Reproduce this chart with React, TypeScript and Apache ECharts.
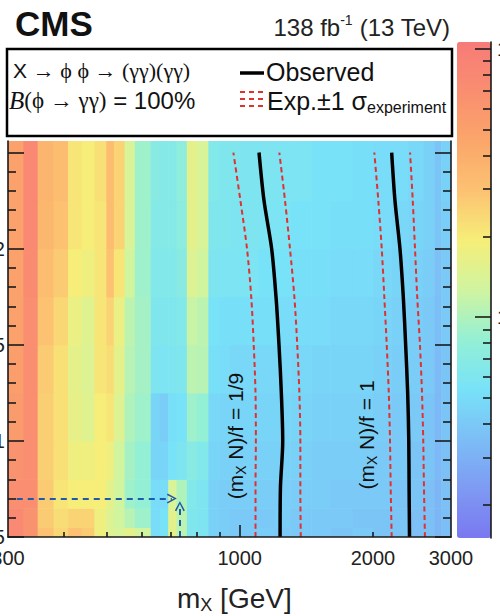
import React, { useEffect, useRef } from "react";
import * as echarts from "echarts";

// The canvas starts 40px left of the page edge; the page crops the y-axis labels.
const SHIFT = 40;

const FONT = "'Liberation Sans', Arial, Helvetica, sans-serif";
const SERIF = "'Liberation Serif', 'Times New Roman', 'DejaVu Serif', serif";

// Bin edges of the limit map
const massEdges = [300, 325, 350, 380, 410, 440, 470, 500, 520, 550, 580, 630, 660, 690, 720, 760, 800, 850, 900, 950, 1000, 1100, 1200, 1300, 1450, 1600, 1800, 2000, 2200, 2400, 2600, 2750, 2850, 3000];
const alphaEdges = [0.005, 0.0055, 0.0065, 0.008, 0.01, 0.0125, 0.015, 0.0175, 0.02, 0.0225, 0.0256];

// Observed 95% CL upper limits (fb), one row per alpha bin, low alpha first
const limitRow0 = [7.7, 6.3, 2.95, 2.4, 2.95, 2.7, 1.79, 1.45, 1.38, 1.57, 1.27, 0.5, 0.54, 1.57, 1.1, 0.61, 0.59, 0.44, 0.42, 0.4, 0.4, 0.42, 0.4, 0.4, 0.4, 0.38, 0.4, 0.38, 0.38, 0.36, 0.36, 0.32, 0.35];
const limitRow1 = [7.7, 6.3, 2.7, 2.3, 2.5, 2.5, 1.79, 1.45, 1.27, 1.06, 0.89, 0.5, 0.54, 1.57, 1.1, 0.61, 0.59, 0.44, 0.42, 0.4, 0.4, 0.4, 0.42, 0.4, 0.4, 0.4, 0.38, 0.38, 0.38, 0.36, 0.36, 0.32, 0.35];
const limitRow2 = [6.8, 6.8, 2.7, 2.1, 1.93, 1.93, 1.93, 1.57, 1.27, 0.89, 0.82, 0.5, 0.5, 1.38, 1.0, 0.64, 0.59, 0.44, 0.42, 0.42, 0.42, 0.42, 0.42, 0.42, 0.42, 0.4, 0.4, 0.4, 0.38, 0.38, 0.36, 0.32, 0.36];
const limitRow3 = [6.3, 6.8, 2.6, 2.2, 1.79, 1.79, 1.93, 1.79, 1.27, 0.93, 0.82, 0.46, 0.46, 0.54, 0.59, 0.69, 0.64, 0.46, 0.44, 0.44, 0.44, 0.44, 0.44, 0.44, 0.42, 0.42, 0.42, 0.4, 0.4, 0.38, 0.38, 0.33, 0.36];
const limitRow4 = [5.5, 6.8, 2.6, 2.2, 1.63, 1.5, 1.93, 2.1, 1.45, 1.0, 0.89, 0.46, 0.42, 0.52, 0.54, 0.89, 0.82, 0.48, 0.46, 0.46, 0.46, 0.46, 0.46, 0.46, 0.44, 0.44, 0.44, 0.42, 0.4, 0.4, 0.38, 0.33, 0.38];
const limitRow5 = [5.1, 6.8, 2.7, 2.2, 1.57, 1.45, 2.1, 2.3, 1.57, 1.06, 0.93, 0.59, 0.57, 0.59, 0.61, 1.1, 1.06, 0.52, 0.5, 0.48, 0.48, 0.48, 0.48, 0.48, 0.46, 0.46, 0.46, 0.44, 0.42, 0.42, 0.4, 0.34, 0.38];
const limitRow6 = [4.9, 6.8, 2.95, 2.4, 1.7, 1.5, 2.1, 2.5, 1.7, 1.1, 0.93, 0.61, 0.61, 0.61, 0.64, 1.2, 1.1, 0.54, 0.52, 0.52, 0.52, 0.52, 0.5, 0.5, 0.5, 0.48, 0.48, 0.46, 0.44, 0.42, 0.4, 0.35, 0.4];
const limitRow7 = [4.9, 7.4, 3.2, 2.7, 1.93, 1.79, 2.1, 2.95, 2.1, 1.27, 0.89, 0.64, 0.64, 0.64, 0.69, 1.45, 1.27, 0.59, 0.57, 0.57, 0.57, 0.54, 0.54, 0.52, 0.52, 0.5, 0.5, 0.48, 0.46, 0.44, 0.42, 0.36, 0.4];
const limitRow8 = [4.9, 7.7, 3.5, 2.95, 2.1, 1.93, 2.1, 3.2, 2.5, 1.38, 0.89, 0.66, 0.66, 0.66, 0.72, 1.57, 1.38, 0.61, 0.61, 0.59, 0.59, 0.57, 0.57, 0.54, 0.54, 0.52, 0.52, 0.5, 0.48, 0.46, 0.44, 0.38, 0.42];
const limitRow9 = [4.9, 7.7, 3.6, 3.2, 2.1, 1.93, 2.2, 3.2, 2.5, 1.38, 0.89, 0.69, 0.66, 0.66, 0.75, 1.57, 1.38, 0.64, 0.61, 0.61, 0.59, 0.59, 0.57, 0.57, 0.54, 0.54, 0.52, 0.5, 0.5, 0.48, 0.44, 0.38, 0.44];
const limitRows = [limitRow0, limitRow1, limitRow2, limitRow3, limitRow4, limitRow5, limitRow6, limitRow7, limitRow8, limitRow9];

// Exclusion contours: m_X (GeV) at each alpha
const contourAlpha = [0.005, 0.0075, 0.01, 0.0125, 0.015, 0.0175, 0.02, 0.0225, 0.025];
const obsNinth = [1234, 1236, 1251, 1242, 1227, 1208, 1181, 1135, 1106];
const expLowNinth = [1086, 1086, 1088, 1086, 1076, 1062, 1039, 1004, 968];
const expHighNinth = [1374, 1371, 1371, 1364, 1349, 1329, 1299, 1266, 1229];
const obsOne = [2418, 2413, 2409, 2395, 2370, 2341, 2301, 2242, 2204];
const expLowOne = [2204, 2193, 2185, 2171, 2148, 2121, 2093, 2056, 2014];
const expHighOne = [2620, 2607, 2597, 2580, 2553, 2517, 2488, 2459, 2425];

// Arrows marking the largest local excess
const arrowAcross = [[314, 0.007], [703, 0.007]];
const arrowUp = [[733, 0.005], [733, 0.0066]];

// Axis ticks and labels
const massLabels = [300, 1000, 2000, 3000];
const massMajorTicks = [1000];
const massMinorTicks = [400, 500, 600, 700, 800, 900, 2000];
const alphaLabels = [0.005, 0.01, 0.015, 0.02];
const alphaMajorTicks = [0.005, 0.01, 0.015, 0.02, 0.025];
const alphaMinorTicks = [0.006, 0.007, 0.008, 0.009, 0.011, 0.012, 0.013, 0.014, 0.016, 0.017, 0.018, 0.019, 0.021, 0.022, 0.023, 0.024];
const zMin = 0.15;
const zMax = 10.6;
const zLabels = [1, 10];
const zMajorTicks = [1, 10];
const zMinorTicks = [0.2, 0.3, 0.4, 0.5, 0.6, 0.7, 0.8, 0.9, 2, 3, 4, 5, 6, 7, 8, 9];

const palette = ["#7a78f0", "#7e9af3", "#7cbef6", "#78e2f8", "#94f0d4", "#d0f4a0", "#f6ee78", "#fcc272", "#fba66a", "#f98e70", "#f77b78"];

const AXIS = "#1a1a1a";
const RED = "#e03131";
const ARROW = "#1e5aa8";

const px = (x: number) => x + SHIFT;

function buildOption() {
  const cells: number[][] = [];
  limitRows.forEach((row, r) => {
    row.forEach((v, c) => {
      cells.push([massEdges[c], massEdges[c + 1], alphaEdges[r], alphaEdges[r + 1], Math.log10(v)]);
    });
  });
  const curve = (ms: number[]) => ms.map((m, i) => [m, contourAlpha[i]]);

  const grid = { left: px(8), top: 141, width: 443, height: 396 };
  const bar = { left: px(457), top: 42, width: 34, height: 496 };

  const lineStyle = { color: AXIS, width: 1.6 };
  const massAxis = (extra: any) => ({
    type: "log",
    gridIndex: 0,
    position: "bottom",
    min: 300,
    max: 3000,
    z: 10,
    splitLine: { show: false },
    axisLine: { show: false, onZero: false, lineStyle },
    ...extra,
  });
  const alphaAxis = (extra: any) => ({
    type: "value",
    gridIndex: 0,
    min: 0.005,
    max: 0.0256,
    z: 10,
    splitLine: { show: false },
    axisLine: { show: false, onZero: false, lineStyle },
    axisLabel: { show: false },
    ...extra,
  });
  const zAxis = (extra: any) => ({
    type: "log",
    gridIndex: 1,
    position: "right",
    min: zMin,
    max: zMax,
    z: 10,
    splitLine: { show: false },
    axisLine: { show: false, onZero: false, lineStyle },
    axisLabel: { show: false },
    ...extra,
  });

  const arrowHead = "path://M0,9 L5,0 L10,9 L8.6,9.8 L5,2.8 L1.4,9.8 Z";

  const labelRich = {
    p: { fontSize: 21, fontFamily: FONT, fill: "#111", lineHeight: 26 },
    s: { fontSize: 14, fontFamily: FONT, fill: "#111", lineHeight: 14, verticalAlign: "bottom" },
  };

  return {
    animation: false,
    backgroundColor: "#ffffff",
    textStyle: { fontFamily: FONT },
    grid: [
      { ...grid, containLabel: false, outerBoundsMode: "none" },
      { ...bar, containLabel: false, outerBoundsMode: "none" },
    ],
    xAxis: [
      massAxis({
        axisLine: { show: true, onZero: false, lineStyle },
        axisTick: { show: true, inside: true, length: 5, customValues: massMinorTicks, lineStyle },
        axisLabel: {
          show: true,
          customValues: massLabels,
          formatter: (v: number) => String(Math.round(v)),
          fontSize: 20,
          color: "#222",
          margin: 11,
          fontFamily: FONT,
        },
      }),
      massAxis({
        axisTick: { show: true, inside: true, length: 12, customValues: massMajorTicks, lineStyle },
        axisLabel: { show: false },
      }),
      { type: "value", gridIndex: 1, show: false, min: 0, max: 1 },
    ],
    yAxis: [
      alphaAxis({
        position: "left",
        axisLine: { show: true, onZero: false, lineStyle },
        axisTick: { show: true, inside: true, length: 16, customValues: alphaMajorTicks, lineStyle },
        axisLabel: {
          show: true,
          customValues: alphaLabels,
          formatter: (v: number) => String(Number(v.toFixed(4))),
          fontSize: 20,
          color: "#222",
          margin: 3,
          fontFamily: FONT,
        },
      }),
      alphaAxis({
        position: "left",
        axisTick: { show: true, inside: true, length: 8, customValues: alphaMinorTicks, lineStyle },
      }),
      alphaAxis({
        position: "right",
        axisLine: { show: true, onZero: false, lineStyle },
        axisTick: { show: true, inside: true, length: 16, customValues: alphaMajorTicks, lineStyle },
      }),
      alphaAxis({
        position: "right",
        axisTick: { show: true, inside: true, length: 8, customValues: alphaMinorTicks, lineStyle },
      }),
      zAxis({
        axisLine: { show: true, onZero: false, lineStyle },
        axisTick: { show: true, inside: true, length: 8, customValues: zMinorTicks, lineStyle },
      }),
      zAxis({
        axisTick: { show: true, inside: true, length: 16, customValues: zMajorTicks, lineStyle },
        axisLabel: {
          show: true,
          customValues: zLabels,
          formatter: (v: number) => String(Math.round(v)),
          fontSize: 20,
          color: "#222",
          margin: 6,
          fontFamily: FONT,
        },
      }),
    ],
    visualMap: {
      type: "continuous",
      seriesIndex: 0,
      dimension: 4,
      min: Math.log10(zMin),
      max: Math.log10(zMax),
      calculable: false,
      hoverLink: false,
      orient: "vertical",
      left: bar.left,
      top: bar.top,
      itemWidth: bar.width,
      itemHeight: bar.height,
      padding: 0,
      text: null,
      showLabel: false,
      inRange: { color: palette },
    },
    series: [
      {
        type: "custom",
        xAxisIndex: 0,
        yAxisIndex: 0,
        clip: true,
        silent: true,
        encode: { x: [0, 1], y: [2, 3] },
        data: cells,
        renderItem: (_params: any, api: any) => {
          const a = api.coord([api.value(0), api.value(2)]);
          const b = api.coord([api.value(1), api.value(3)]);
          return {
            type: "rect",
            shape: { x: a[0], y: b[1], width: b[0] - a[0] + 0.6, height: a[1] - b[1] + 0.6 },
            style: { fill: api.visual("color"), stroke: null },
          };
        },
        z: 2,
      },
      ...[expLowNinth, expHighNinth, expLowOne, expHighOne].map((ms) => ({
        type: "line",
        xAxisIndex: 0,
        yAxisIndex: 0,
        data: curve(ms),
        smooth: 0.3,
        symbol: "none",
        silent: true,
        lineStyle: { color: RED, width: 2, type: [5, 3.5] },
        z: 4,
      })),
      ...[obsNinth, obsOne].map((ms) => ({
        type: "line",
        xAxisIndex: 0,
        yAxisIndex: 0,
        data: curve(ms),
        smooth: 0.3,
        symbol: "none",
        silent: true,
        lineStyle: { color: "#000", width: 3.5 },
        z: 5,
      })),
      {
        type: "lines",
        coordinateSystem: "cartesian2d",
        xAxisIndex: 0,
        yAxisIndex: 0,
        silent: true,
        symbol: ["none", arrowHead],
        symbolSize: [12, 10],
        lineStyle: { color: ARROW, width: 2, type: [6, 5], opacity: 1 },
        data: [{ coords: arrowAcross }, { coords: arrowUp }],
        z: 6,
      },
    ],
    graphic: [
      {
        type: "text",
        x: px(15),
        y: 23,
        z: 100,
        style: { text: "CMS", fontSize: 35, fontWeight: "bold", fontFamily: FONT, fill: "#111", align: "left", verticalAlign: "middle" },
      },
      {
        type: "text",
        x: px(450),
        y: 27,
        z: 100,
        style: {
          text: "{n|138 fb}{u|-1}{n| (13 TeV)}",
          align: "right",
          verticalAlign: "middle",
          rich: {
            n: { fontSize: 24, fontFamily: FONT, fill: "#222", lineHeight: 28 },
            u: { fontSize: 14, fontFamily: FONT, fill: "#222", lineHeight: 14, verticalAlign: "top" },
          },
        },
      },
      {
        type: "rect",
        z: 100,
        shape: { x: px(7), y: 49, width: 445, height: 87 },
        style: { fill: "#ffffff", stroke: "#000", lineWidth: 2.5 },
      },
      {
        type: "text",
        x: px(13),
        y: 70,
        z: 101,
        style: {
          text: "{s|X }{r|→ ϕ ϕ → (γγ)(γγ)}",
          align: "left",
          verticalAlign: "middle",
          rich: {
            s: { fontSize: 21, fontFamily: FONT, fill: "#111" },
            r: { fontSize: 22, fontFamily: SERIF, fill: "#111" },
          },
        },
      },
      {
        type: "text",
        x: px(9),
        y: 100,
        z: 101,
        style: {
          text: "{i|B}{r|(ϕ → γγ)}{s| = 100%}",
          align: "left",
          verticalAlign: "middle",
          rich: {
            i: { fontSize: 25, fontFamily: SERIF, fontStyle: "italic", fill: "#111" },
            r: { fontSize: 23, fontFamily: SERIF, fill: "#111" },
            s: { fontSize: 24, fontFamily: FONT, fill: "#111" },
          },
        },
      },
      {
        type: "line",
        z: 101,
        shape: { x1: px(240), y1: 73, x2: px(264), y2: 73 },
        style: { stroke: "#000", lineWidth: 3.5 },
      },
      {
        type: "text",
        x: px(266),
        y: 72,
        z: 101,
        style: { text: "Observed", fontSize: 25, fontFamily: FONT, fill: "#111", align: "left", verticalAlign: "middle" },
      },
      ...[92, 99, 106].map((yy) => ({
        type: "line",
        z: 101,
        shape: { x1: px(240), y1: yy, x2: px(263), y2: yy },
        style: { stroke: RED, lineWidth: 2.2, lineDash: [5, 4] },
      })),
      {
        type: "text",
        x: px(267),
        y: 101,
        z: 101,
        style: {
          text: "{n|Exp.±1 σ}{s|experiment}",
          align: "left",
          verticalAlign: "middle",
          rich: {
            n: { fontSize: 25, fontFamily: FONT, fill: "#111", lineHeight: 29 },
            s: { fontSize: 16, fontFamily: FONT, fill: "#111", lineHeight: 16, verticalAlign: "bottom" },
          },
        },
      },
      {
        type: "text",
        x: px(177),
        y: 598,
        z: 50,
        style: {
          text: "{m|m}{s|X}{m| [GeV]}",
          align: "left",
          verticalAlign: "middle",
          rich: {
            m: { fontSize: 28, fontFamily: FONT, fill: "#222", lineHeight: 32 },
            s: { fontSize: 18, fontFamily: FONT, fill: "#222", lineHeight: 18, verticalAlign: "bottom" },
          },
        },
      },
      {
        type: "text",
        x: px(235),
        y: 436,
        z: 50,
        rotation: Math.PI / 2,
        style: { text: "{p|(m}{s|X}{p| N)/f = 1/9}", align: "center", verticalAlign: "middle", rich: labelRich },
      },
      {
        type: "text",
        x: px(366),
        y: 435,
        z: 50,
        rotation: Math.PI / 2,
        style: { text: "{p|(m}{s|X}{p| N)/f = 1}", align: "center", verticalAlign: "middle", rich: labelRich },
      },
    ],
  };
}

export default function App() {
  const ref = useRef<HTMLDivElement>(null);
  useEffect(() => {
    if (!ref.current) return;
    const chart = echarts.init(ref.current, null, { renderer: "svg" });
    chart.setOption(buildOption() as any);
    return () => chart.dispose();
  }, []);
  return (
    <div style={{ position: "fixed", left: 0, top: 0, width: 500, height: 616, overflow: "hidden", background: "#fff" }}>
      <div ref={ref} style={{ position: "absolute", left: -SHIFT, top: 0, width: 580, height: 616 }} />
    </div>
  );
}
